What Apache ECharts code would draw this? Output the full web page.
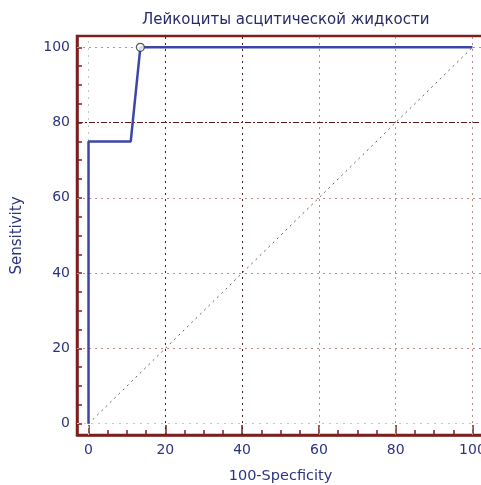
<!DOCTYPE html>
<html lang="ru">
<head>
    <meta charset="UTF-8">
    <title>Лейкоциты асцитической жидкости</title>
    <script src="https://cdn.jsdelivr.net/npm/echarts@6/dist/echarts.min.js"></script>
    <style>
        html, body {margin: 0; padding: 0; background: #fff;}
        #main {width: 481px; height: 485px;}
    </style>
</head>
<body>
<div id="main"></div>
<script>
    // ROC curve points (100-Specificity, Sensitivity)
    var rocX = [0, 0, 11, 13.5, 100];
    var rocY = [0, 75, 75, 100, 100];
    // chosen criterion point
    var cutX = [13.5];
    var cutY = [100];
    // reference diagonal
    var diagX = [0, 100];
    var diagY = [0, 100];
    // ticks
    var tickLabels = [0, 20, 40, 60, 80, 100];
    var minorTicks = [0, 5, 10, 15, 20, 25, 30, 35, 40, 45, 50, 55, 60, 65, 70, 75, 80, 85, 90, 95, 100];

    var axisColor = '#7b1f1f';
    var textColor = '#2b3480';
    var font = 'DejaVu Sans';

    function zip(a, b) {
        return a.map(function (v, i) { return [v, b[i]]; });
    }

    function gridLines(dim) {
        var list = [];
        tickLabels.forEach(function (v) {
            var item = {};
            item[dim] = v;
            var style = {color: '#c08a8a', type: [2, 4], width: 1};
            if (v === 0) style = {color: '#c4c4c4', type: [2, 5], width: 1};
            if (dim === 'xAxis' && (v === 20 || v === 40)) style = {color: '#4a2020', type: [2, 4], width: 1};
            if (dim === 'yAxis' && v === 80) style = {color: '#5a1e1e', type: [6, 2, 2, 2], width: 1};
            item.lineStyle = style;
            list.push(item);
        });
        return list;
    }

    function valAxis(extra) {
        var base = {
            type: 'value',
            min: -3,
            max: 103,
            axisLine: {show: true, onZero: false, lineStyle: {color: axisColor, width: 2.5}},
            axisTick: {show: true, inside: true, length: 5, customValues: minorTicks, lineStyle: {color: axisColor, width: 1.5}},
            axisLabel: {customValues: tickLabels, color: textColor, fontSize: 14, fontFamily: font},
            splitLine: {show: false}
        };
        return Object.assign(base, extra);
    }

    var myChart = echarts.init(document.getElementById('main'));
    var option = {
        animation: false,
        backgroundColor: '#ffffff',
        title: {
            text: 'Лейкоциты асцитической жидкости',
            left: 137,
            top: 8,
            textStyle: {color: '#262a68', fontSize: 15, fontWeight: 'normal', fontFamily: font}
        },
        grid: {
            left: 77,
            right: -3,
            top: 36,
            bottom: 50,
            outerBoundsMode: 'none',
            containLabel: false,
            show: true,
            borderColor: axisColor,
            borderWidth: 2.5,
            backgroundColor: '#ffffff'
        },
        xAxis: [
            valAxis({
                position: 'bottom',
                axisLabel: {customValues: tickLabels, color: textColor, fontSize: 14, fontFamily: font, margin: 8},
                name: '100-Specficity',
                nameLocation: 'middle',
                nameGap: 34,
                nameTextStyle: {color: textColor, fontSize: 14.5, fontFamily: font}
            }),
            valAxis({
                position: 'bottom',
                axisLine: {show: false, onZero: false},
                axisTick: {show: true, inside: true, length: 10, customValues: tickLabels, lineStyle: {color: axisColor, width: 1.5}},
                axisLabel: {show: false}
            })
        ],
        yAxis: [
            valAxis({
                position: 'left',
                axisLabel: {customValues: tickLabels, color: textColor, fontSize: 14, fontFamily: font, margin: 7},
                name: 'Sensitivity',
                nameLocation: 'middle',
                nameGap: 52,
                nameRotate: 90,
                nameTextStyle: {color: textColor, fontSize: 15, fontFamily: font}
            })
        ],
        series: [
            {
                name: 'grid',
                type: 'line',
                data: [],
                silent: true,
                markLine: {
                    silent: true,
                    symbol: 'none',
                    label: {show: false},
                    data: gridLines('xAxis').concat(gridLines('yAxis'))
                }
            },
            {
                name: 'diagonal',
                type: 'line',
                data: zip(diagX, diagY),
                showSymbol: false,
                silent: true,
                lineStyle: {color: '#6a5a5a', width: 1, type: [2, 4]}
            },
            {
                name: 'ROC',
                type: 'line',
                data: zip(rocX, rocY),
                showSymbol: false,
                lineStyle: {color: '#3d46a6', width: 2.5},
                z: 5
            },
            {
                name: 'criterion',
                type: 'scatter',
                data: zip(cutX, cutY),
                symbol: 'circle',
                symbolSize: 8,
                itemStyle: {color: '#ffffff', borderColor: '#333333', borderWidth: 1.2},
                z: 6
            }
        ]
    };
    myChart.setOption(option);
</script>
</body>
</html>
